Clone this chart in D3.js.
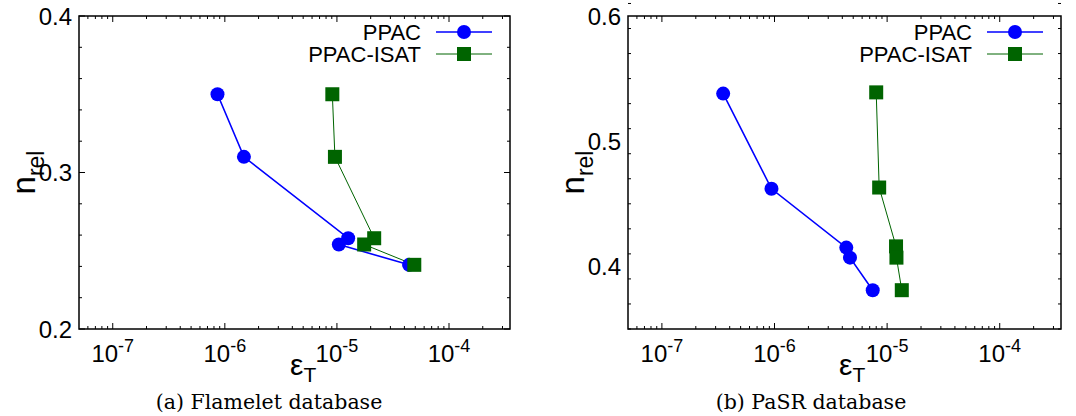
<!DOCTYPE html>
<html>
<head>
<meta charset="utf-8">
<script src="https://cdn.jsdelivr.net/npm/d3@7"></script>
<style>
  html, body { margin: 0; padding: 0; background: #fff; }
  svg { display: block; }
</style>
</head>
<body>
<svg id="chart" width="1076" height="416"></svg>
<script>
// ---------------- data ----------------
const seriesNames = ["PPAC", "PPAC-ISAT"];
const xTickExponents = [-7, -6, -5, -4];

// (a) Flamelet database
const flameletPPAC_eps  = [8.6e-7, 1.48e-6, 1.26e-5, 1.04e-5, 4.4e-5];
const flameletPPAC_n    = [0.350, 0.310, 0.258, 0.254, 0.241];
const flameletISAT_eps  = [9.1e-6, 9.6e-6, 2.15e-5, 1.75e-5, 4.9e-5];
const flameletISAT_n    = [0.350, 0.310, 0.258, 0.254, 0.241];
const flameletYTicks    = [0.2, 0.3, 0.4];

// (b) PaSR database
const pasrPPAC_eps  = [3.5e-7, 9.4e-7, 4.34e-6, 4.68e-6, 7.45e-6];
const pasrPPAC_n    = [0.538, 0.462, 0.415, 0.407, 0.381];
const pasrISAT_eps  = [8.0e-6, 8.5e-6, 1.20e-5, 1.21e-5, 1.35e-5];
const pasrISAT_n    = [0.539, 0.463, 0.416, 0.407, 0.381];
const pasrYTicks    = [0.4, 0.5, 0.6];

const captions = ["(a) Flamelet database", "(b) PaSR database"];

// ---------------- drawing ----------------
const svg = d3.select("#chart");
const FONT = "'Liberation Sans', Arial, Helvetica, sans-serif";
const BLUE = "#0000ff", GREEN = "#006400";

function zip(xs, ys) { return xs.map((x, i) => ({x, y: ys[i]})); }

function drawPanel(cfg) {
  const {x0, x1, y0, y1, yDomain, yTicks, yMinorStep, s1, s2, caption, captionX} = cfg;
  const g = svg.append("g");
  const x = d3.scaleLog().domain([5e-8, 3.5e-4]).range([x0, x1]);
  const y = d3.scaleLinear().domain(yDomain).range([y1, y0]);

  // frame
  g.append("rect").attr("x", x0).attr("y", y0).attr("width", x1 - x0).attr("height", y1 - y0)
    .attr("fill", "none").attr("stroke", "#000").attr("stroke-width", 1.5);

  // x ticks (log major + minor), mirrored on top
  const majors = xTickExponents.map(e => Math.pow(10, e));
  const minors = [];
  for (let e = -8; e <= -4; e++) for (let m = 2; m <= 9; m++) {
    const v = m * Math.pow(10, e);
    if (v > 5e-8 && v < 3.5e-4) minors.push(v);
  }
  const tk = g.append("g").attr("stroke", "#000").attr("stroke-width", 1);
  majors.forEach(v => {
    const px = x(v);
    tk.append("line").attr("x1", px).attr("x2", px).attr("y1", y1).attr("y2", y1 - 6);
    tk.append("line").attr("x1", px).attr("x2", px).attr("y1", y0).attr("y2", y0 + 6);
  });
  minors.forEach(v => {
    const px = x(v);
    tk.append("line").attr("x1", px).attr("x2", px).attr("y1", y1).attr("y2", y1 - 3);
    tk.append("line").attr("x1", px).attr("x2", px).attr("y1", y0).attr("y2", y0 + 3);
  });
  // y ticks
  const nMinor = Math.round((yDomain[1] - yDomain[0]) / yMinorStep);
  for (let i = 0; i <= nMinor; i++) {
    const v = yDomain[0] + i * yMinorStep;
    const py = y(v);
    const isMajor = yTicks.some(t => Math.abs(t - v) < 1e-9);
    const len = isMajor ? 6 : 3;
    tk.append("line").attr("x1", x0).attr("x2", x0 + len).attr("y1", py).attr("y2", py);
    tk.append("line").attr("x1", x1).attr("x2", x1 - len).attr("y1", py).attr("y2", py);
  }

  // x tick labels
  majors.forEach((v, i) => {
    const t = g.append("text").attr("x", x(v)).attr("y", y1 + 33)
      .attr("text-anchor", "middle").attr("font-family", FONT).attr("font-size", 24);
    t.append("tspan").text("10");
    t.append("tspan").attr("dy", -10).attr("font-size", 18).text(String(xTickExponents[i]));
  });
  // y tick labels
  yTicks.forEach(v => {
    g.append("text").attr("x", x0 - 7).attr("y", y(v)).attr("dy", "0.36em")
      .attr("text-anchor", "end").attr("font-family", FONT).attr("font-size", 24)
      .text(d3.format(".1f")(v));
  });

  // axis titles
  const yl = g.append("text").attr("transform", `translate(${x0 - 44},${(y0 + y1) / 2}) rotate(-90)`)
    .attr("text-anchor", "middle").attr("font-family", FONT).attr("font-size", 33);
  yl.append("tspan").text("n");
  yl.append("tspan").attr("dy", 9).attr("font-size", 23).text("rel");

  const xl = g.append("text").attr("x", x0 + 211).attr("y", y1 + 46)
    .attr("text-anchor", "start").attr("font-family", FONT).attr("font-size", 30);
  xl.append("tspan").text("ε");
  xl.append("tspan").attr("dy", 7).attr("font-size", 21).text("T");

  // series
  const line = d3.line().x(d => x(d.x)).y(d => y(d.y));
  const d1 = zip(s1.xs, s1.ys), d2 = zip(s2.xs, s2.ys);
  g.append("path").datum(d1).attr("d", line).attr("fill", "none").attr("stroke", BLUE).attr("stroke-width", 1.6);
  g.append("path").datum(d2).attr("d", line).attr("fill", "none").attr("stroke", GREEN).attr("stroke-width", 1);
  g.selectAll(null).data(d1).enter().append("circle")
    .attr("cx", d => x(d.x)).attr("cy", d => y(d.y)).attr("r", 7).attr("fill", BLUE);
  g.selectAll(null).data(d2).enter().append("rect")
    .attr("x", d => x(d.x) - 7).attr("y", d => y(d.y) - 7).attr("width", 14).attr("height", 14).attr("fill", GREEN);

  // legend
  const legY = [32, 54];
  seriesNames.forEach((name, i) => {
    g.append("text").attr("x", x1 - 89).attr("y", legY[i]).attr("dy", "0.36em")
      .attr("text-anchor", "end").attr("font-family", FONT).attr("font-size", 22).text(name);
    g.append("line").attr("x1", x1 - 74).attr("x2", x1 - 18).attr("y1", legY[i]).attr("y2", legY[i])
      .attr("stroke", i === 0 ? BLUE : GREEN).attr("stroke-width", i === 0 ? 1.6 : 1);
    const mx = x1 - 46;
    if (i === 0) g.append("circle").attr("cx", mx).attr("cy", legY[i]).attr("r", 7).attr("fill", BLUE);
    else g.append("rect").attr("x", mx - 7).attr("y", legY[i] - 7).attr("width", 14).attr("height", 14).attr("fill", GREEN);
  });

  // caption
  svg.append("text").attr("x", captionX).attr("y", 409).attr("text-anchor", "middle")
    .attr("font-family", "'DejaVu Serif', serif").attr("font-size", 20.5).text(caption);
}

drawPanel({
  x0: 79, x1: 510, y0: 16, y1: 329, yDomain: [0.2, 0.4], yTicks: flameletYTicks, yMinorStep: 0.02,
  s1: {xs: flameletPPAC_eps, ys: flameletPPAC_n}, s2: {xs: flameletISAT_eps, ys: flameletISAT_n},
  caption: captions[0], captionX: 269
});
drawPanel({
  x0: 628, x1: 1061, y0: 16, y1: 329, yDomain: [0.35, 0.6], yTicks: pasrYTicks, yMinorStep: 0.02,
  s1: {xs: pasrPPAC_eps, ys: pasrPPAC_n}, s2: {xs: pasrISAT_eps, ys: pasrISAT_n},
  caption: captions[1], captionX: 811
});
</script>
</body>
</html>
